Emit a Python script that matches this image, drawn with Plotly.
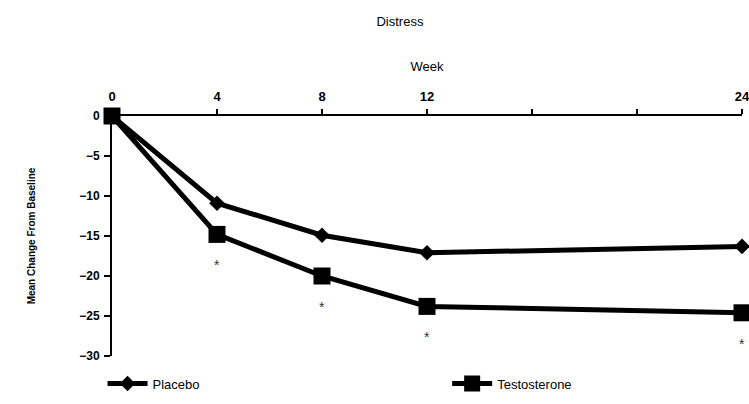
import plotly.graph_objects as go

weeks = [0, 4, 8, 12, 24]
placebo = [0, -10.9, -14.9, -17.1, -16.3]
testosterone = [0, -14.8, -20.0, -23.8, -24.6]
sig_weeks = [4, 8, 12, 24]
sig_vals = [-14.8, -20.0, -23.8, -24.6]

x_tickvals = [0, 4, 8, 12, 16, 20, 24]
x_ticktext = ["0", "4", "8", "12", "", "", "24"]
y_tickvals = [0, -5, -10, -15, -20, -25, -30]

FONT = "Liberation Sans, Arial, sans-serif"

fig = go.Figure()
fig.add_trace(go.Scatter(
    x=weeks, y=placebo, name="Placebo", mode="lines+markers",
    line=dict(color="black", width=5),
    marker=dict(symbol="diamond", size=12, color="black"),
    cliponaxis=False, legend="legend",
))
fig.add_trace(go.Scatter(
    x=weeks, y=testosterone, name="Testosterone", mode="lines+markers",
    line=dict(color="black", width=5),
    marker=dict(symbol="square", size=17, color="black"),
    cliponaxis=False, legend="legend2",
))
for w, v in zip(sig_weeks, sig_vals):
    fig.add_annotation(x=w, y=v, text="*", showarrow=False, yshift=-31,
                       font=dict(family=FONT, size=14, color="#333"))

leg_common = dict(orientation="h", xanchor="left", y=-0.11, yanchor="middle",
                  font=dict(family=FONT, size=13, color="black"),
                  bgcolor="rgba(0,0,0,0)", itemwidth=40)

fig.update_layout(
    width=749, height=404,
    margin=dict(l=112, r=7, t=116, b=47),
    paper_bgcolor="white", plot_bgcolor="white",
    font=dict(family=FONT, color="black", size=12),
    title=dict(text="Distress", x=0.534, xanchor="center", y=0.946, yanchor="middle",
               font=dict(family=FONT, size=13, color="black")),
    showlegend=True,
    legend=dict(x=-0.015, **leg_common),
    legend2=dict(x=0.532, **leg_common),
    xaxis=dict(
        side="top", range=[0, 24], tickvals=x_tickvals, ticktext=x_ticktext,
        showline=True, linecolor="black", linewidth=2, ticks="outside", ticklen=5,
        tickcolor="black", tickwidth=1.5, showgrid=False, zeroline=False,
        ticklabelstandoff=3, ticklabeloverflow="allow", automargin=False,
        tickfont=dict(family=FONT, size=13, color="black", weight="bold"),
        title=dict(text="Week", standoff=14, font=dict(family=FONT, size=13, color="black")),
    ),
    yaxis=dict(
        range=[-30, 0], tickvals=y_tickvals,
        showline=True, linecolor="black", linewidth=2, ticks="outside", ticklen=6,
        tickcolor="black", tickwidth=1.5, showgrid=False, zeroline=False,
        ticklabelstandoff=2, automargin=False,
        tickfont=dict(family=FONT, size=12, color="black", weight="bold"),
        title=dict(text="<b>Mean Change From Baseline</b>", standoff=42,
                   font=dict(family=FONT, size=10, color="black")),
    ),
)

fig.write_html("out.html", config={"displayModeBar": False},
               post_script="document.body.style.margin='0';document.body.style.overflow='hidden';")
